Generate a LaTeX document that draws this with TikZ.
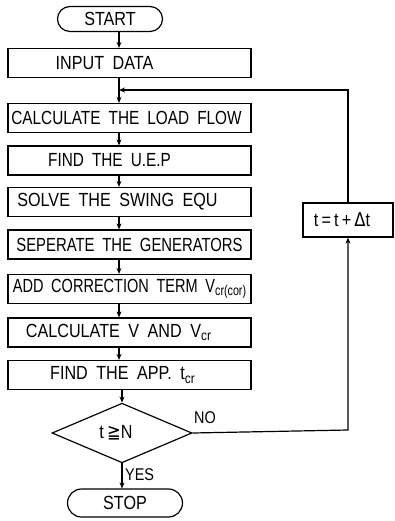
\documentclass[tikz,border=0pt]{standalone}
\usepackage{fontspec}
\usepackage{graphicx}
\setmainfont{Liberation Sans}[FakeStretch=0.85, WordSpace=1.9]
\newfontfamily\symfont{DejaVu Sans}[FakeStretch=0.86]
\usetikzlibrary{shapes.geometric,shapes.misc,arrows.meta}
\newcommand{\lowidx}[1]{\raisebox{-3.5pt}{\fontsize{14}{14}\selectfont #1}}
% shift the lettering left inside a box by half the given amount
\newcommand{\lft}[2]{#2\hspace*{#1}}
\tikzset{
  boxfont/.style={font=\fontsize{19}{21}\selectfont},
  procbox/.style={draw, line width=1.2pt, minimum width=243pt, minimum height=29pt,
    inner sep=0pt, boxfont},
  termbox/.style={draw, line width=1.2pt, rounded rectangle, inner sep=0pt, boxfont},
  decbox/.style={draw, line width=1.2pt, diamond, minimum width=140pt,
    minimum height=42pt, inner sep=0pt, boxfont},
  flow/.style={line width=1.2pt, -{Stealth[length=6pt,width=5pt]}},
  lbl/.style={font=\fontsize{17}{19}\selectfont, inner sep=0pt}
}
\begin{document}
\begin{tikzpicture}[x=1pt,y=-1pt]
\useasboundingbox (0,0) rectangle (394,521);
% main column
\node[termbox, minimum width=105pt, minimum height=25pt] (start) at (110,19) {START};
\node[procbox] (input) at (129.5,63) {\lft{50pt}{INPUT DATA}};
\node[procbox] (load) at (129.5,118) {\lft{6pt}{\scalebox{0.95}[1]{CALCULATE THE LOAD FLOW}}};
\node[procbox] (uep) at (129.5,160.5) {\lft{40pt}{\scalebox{0.95}[1]{FIND THE U.E.P}}};
\node[procbox] (swing) at (129.5,202) {\lft{24pt}{SOLVE THE SWING EQU}};
\node[procbox] (sep) at (129.5,244.5) {\scalebox{0.92}[1]{SEPERATE THE GENERATORS}};
\node[procbox] (corr) at (129.5,289) {\scalebox{0.9}[1]{ADD CORRECTION TERM V\lowidx{cr(cor)}}};
\node[procbox] (calcv) at (129.5,332.5) {\lft{22pt}{CALCULATE V AND V\lowidx{cr}}};
\node[procbox] (app) at (129.5,375) {\lft{14pt}{FIND THE APP. t\lowidx{cr}}};
\node[decbox] (test) at (122,433) {\lft{12pt}{t\,{\symfont ≧}N}};
\node[termbox, minimum width=115pt, minimum height=28pt] (stop) at (125,503) {STOP};
% loop branch
\node[draw, line width=1.2pt, minimum width=90pt, minimum height=34pt, inner sep=0pt,
  boxfont] (incr) at (348,220) {\lft{12pt}{t\,=\,t\,+\,{\symfont Δ}t}};
\coordinate (spine) at (119,0);
\coordinate (merge) at (119,90);
\coordinate (looptop) at (348,90);
\coordinate (nocorner) at (348,430);
% connectors
\draw[flow] (start.south -| spine) -- (input.north -| spine);
\draw[flow] (input.south -| spine) -- (load.north -| spine);
\draw[flow] (load.south -| spine) -- (uep.north -| spine);
\draw[flow] (uep.south -| spine) -- (swing.north -| spine);
\draw[flow] (swing.south -| spine) -- (sep.north -| spine);
\draw[flow] (sep.south -| spine) -- (corr.north -| spine);
\draw[flow] (corr.south -| spine) -- (calcv.north -| spine);
\draw[flow] (calcv.south -| spine) -- (app.north -| spine);
\draw[flow] (app.south -| test.north) -- (test.north);
\draw[flow] (test.south) -- (stop.north -| test.south);
\draw[flow] (test.east) -- (nocorner) -- (incr.south);
\draw[flow] (incr.north) -- (looptop) -- (merge);
% branch labels
\node[lbl, anchor=west] (yes) at (125,475) {YES};
\node[lbl, anchor=west] (no) at (194,418) {NO};
\end{tikzpicture}
\end{document}
